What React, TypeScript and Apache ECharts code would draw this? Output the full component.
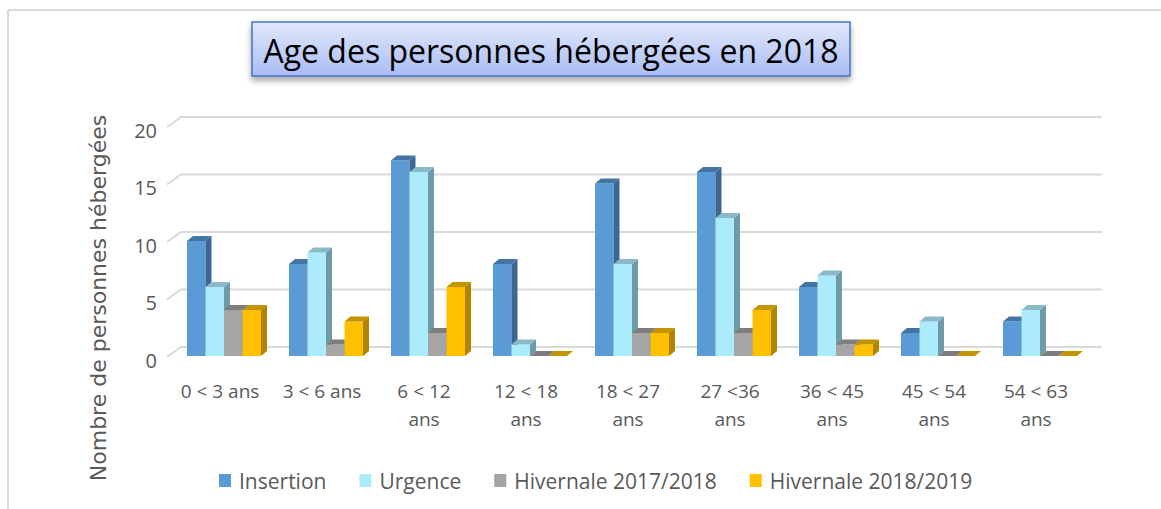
import React, { useEffect, useRef } from "react";
import * as echarts from "echarts";

const categories = [
  "0 < 3 ans",
  "3 < 6 ans",
  "6 < 12\nans",
  "12 < 18\nans",
  "18 < 27\nans",
  "27 <36\nans",
  "36 < 45\nans",
  "45 < 54\nans",
  "54 < 63\nans",
];
const seriesNames = ["Insertion", "Urgence", "Hivernale 2017/2018", "Hivernale 2018/2019"];
const insertion = [10, 8, 17, 8, 15, 16, 6, 2, 3];
const urgence = [6, 9, 16, 1, 8, 12, 7, 3, 4];
const hivernale1718 = [4, 1, 2, 0, 2, 2, 1, 0, 0];
const hivernale1819 = [4, 3, 6, 0, 2, 4, 1, 0, 0];
const yTicks = [0, 5, 10, 15, 20];

const faceColors = [
  { front: "#5B9BD5", top: "#4374a4", side: "#3b6792" },
  { front: "#ABEBFC", top: "#8ab9c8", side: "#6f9aa8" },
  { front: "#A5A5A5", top: "#7d7d7d", side: "#6e6e6e" },
  { front: "#FFC000", top: "#c49300", side: "#b08400" },
];

const BW = 18.5;
const DX = 6;
const DY = 5;
const GROUP_SHIFT = 4;

function makeBarSeries(name: string, values: number[], idx: number) {
  const c = faceColors[idx];
  return {
    type: "custom",
    name,
    clip: false,
    z: 3,
    itemStyle: { color: c.front },
    data: values.map((v, i) => [i, v]),
    encode: { x: 0, y: 1 },
    renderItem: (params: any, api: any) => {
      const xi = api.value(0);
      const v = api.value(1);
      const base = api.coord([xi, 0]);
      const top = api.coord([xi, v]);
      const left = base[0] + GROUP_SHIFT - 2 * BW + idx * BW;
      const right = left + BW;
      const yb = base[1];
      const yt = top[1];
      const children: any[] = [];
      if (yb - yt > 0.5) {
        children.push({
          type: "rect",
          shape: { x: left, y: yt, width: BW, height: yb - yt },
          style: { fill: c.front },
        });
      }
      children.push({
        type: "polygon",
        shape: {
          points: [
            [right, yt],
            [right + DX, yt - DY],
            [right + DX, yb - DY],
            [right, yb],
          ],
        },
        style: { fill: c.side },
      });
      children.push({
        type: "polygon",
        shape: {
          points: [
            [left, yt],
            [left + DX, yt - DY],
            [right + DX, yt - DY],
            [right, yt],
          ],
        },
        style: { fill: c.top },
      });
      return { type: "group", children };
    },
  };
}

export default function App() {
  const ref = useRef<HTMLDivElement>(null);
  useEffect(() => {
    if (!ref.current) return;
    const chart = echarts.init(ref.current, null, { renderer: "svg" });
    const labelFont = "Open Sans";
    const option: any = {
      animation: false,
      backgroundColor: "#ffffff",
      color: faceColors.map((c) => c.front),
      grid: { left: 169, top: 126, width: 918, height: 230, containLabel: false },
      xAxis: {
        type: "category",
        data: categories,
        axisLine: { show: false },
        axisTick: { show: false },
        splitLine: { show: false },
        axisLabel: {
          color: "#595959",
          fontFamily: labelFont,
          fontSize: 19,
          lineHeight: 28,
          margin: 21,
          interval: 0,
          verticalAlign: "top",
        },
      },
      yAxis: {
        type: "value",
        min: 0,
        max: 20,
        interval: 5,
        axisLine: { show: false },
        axisTick: { show: false },
        splitLine: { show: false },
        axisLabel: {
          color: "#595959",
          fontFamily: labelFont,
          fontSize: 20,
          margin: 12,
          verticalAlign: "top",
          lineHeight: 8,
        },
      },
      legend: {
        data: seriesNames,
        left: 214,
        top: 465,
        icon: "rect",
        itemWidth: 12,
        itemHeight: 13,
        itemGap: 33,
        textStyle: {
          color: "#595959",
          fontFamily: labelFont,
          fontSize: 21,
          padding: [0, 0, 0, 3],
        },
      },
      graphic: [
        {
          type: "line",
          shape: { x1: 8, y1: 10, x2: 1161, y2: 10 },
          style: { stroke: "#d9d9d9", lineWidth: 2 },
        },
        {
          type: "line",
          shape: { x1: 8, y1: 10, x2: 8, y2: 509 },
          style: { stroke: "#d9d9d9", lineWidth: 2 },
        },
        {
          type: "rect",
          shape: { x: 252, y: 22, width: 598, height: 54 },
          style: {
            fill: new echarts.graphic.LinearGradient(0, 0, 0, 1, [
              { offset: 0, color: "#e2e9fc" },
              { offset: 1, color: "#a9bcf4" },
            ]),
            stroke: "#4472C4",
            lineWidth: 1.5,
            shadowBlur: 6,
            shadowOffsetY: 4,
            shadowColor: "rgba(0,0,0,0.35)",
          },
        },
        {
          type: "text",
          x: 551,
          y: 50,
          style: {
            text: "Age des personnes hébergées en 2018",
            fill: "#000000",
            fontFamily: labelFont,
            fontSize: 32,
            align: "center",
            verticalAlign: "middle",
          },
        },
        {
          type: "text",
          x: 98,
          y: 298,
          rotation: Math.PI / 2,
          style: {
            text: "Nombre de personnes hébergées",
            fill: "#595959",
            fontFamily: "DejaVu Sans",
            fontSize: 22,
            align: "center",
            verticalAlign: "middle",
          },
        },
      ],
      series: [
        {
          type: "custom",
          name: "grid",
          clip: false,
          z: 1,
          silent: true,
          data: yTicks.map((v) => [0, v]),
          encode: { x: 0, y: 1 },
          renderItem: (params: any, api: any) => {
            const cs = params.coordSys;
            const y = api.coord([0, api.value(1)])[1];
            return {
              type: "polyline",
              shape: {
                points: [
                  [cs.x - 2, y + 1],
                  [cs.x + 12, y - 9],
                  [cs.x + cs.width + 15, y - 9],
                ],
              },
              style: { stroke: "#d9d9d9", lineWidth: 2, fill: "none" },
            };
          },
        },
        makeBarSeries(seriesNames[0], insertion, 0),
        makeBarSeries(seriesNames[1], urgence, 1),
        makeBarSeries(seriesNames[2], hivernale1718, 2),
        makeBarSeries(seriesNames[3], hivernale1819, 3),
      ],
    };
    chart.setOption(option);
    return () => chart.dispose();
  }, []);
  return (
    <div
      ref={ref}
      style={{ position: "absolute", left: 0, top: 0, width: 1161, height: 509 }}
    />
  );
}
